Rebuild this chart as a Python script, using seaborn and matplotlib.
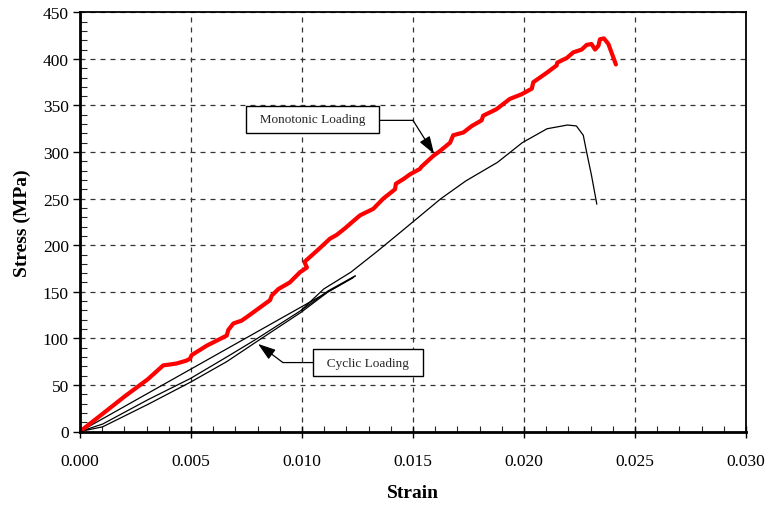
import numpy as np
import pandas as pd
import matplotlib
matplotlib.use("Agg")
import matplotlib.pyplot as plt
from matplotlib.ticker import MultipleLocator, FormatStrFormatter
import seaborn as sns

# ---------------- data ----------------
mono_strain = [0.0, 0.00102, 0.00203, 0.00305, 0.00375, 0.00407, 0.00435, 0.00478, 0.00495, 0.00503,
               0.00570, 0.00661, 0.00668, 0.00691, 0.00728, 0.00752, 0.00781, 0.00856, 0.00864,
               0.00894, 0.00945, 0.00991, 0.01022, 0.01011, 0.01081, 0.01126, 0.01156, 0.01193,
               0.01261, 0.01321, 0.01366, 0.01419, 0.01423, 0.01457, 0.01486, 0.01532, 0.01537,
               0.01592, 0.01621, 0.01667, 0.01681, 0.01727, 0.01765, 0.01809, 0.01816, 0.01876,
               0.01936, 0.01989, 0.02035, 0.02042, 0.02102, 0.02147, 0.02150, 0.02193, 0.02222,
               0.02260, 0.02282, 0.02304, 0.02320, 0.02335, 0.02342, 0.02360, 0.02380, 0.02414]
mono_stress = [0, 19, 38, 56, 71, 72, 73, 76, 78, 82,
               92, 103, 109, 116, 119, 123, 128, 141, 146,
               153, 160, 171, 176, 182, 197, 207, 211, 218,
               232, 239, 250, 260, 266, 271, 276, 282, 284,
               296, 301, 310, 318, 321, 328, 334, 339, 346,
               357, 362, 368, 375, 385, 393, 396, 401, 407,
               410, 415, 416, 410, 414, 421, 422, 416, 394]

cyc_load1_strain = [0.0, 0.00102, 0.00305, 0.00498, 0.00661, 0.00793, 0.00996, 0.01118, 0.01240]
cyc_load1_stress = [0, 5, 29, 53, 75, 96, 128, 150, 167]
cyc_load2_strain = [0.0, 0.00102, 0.00305, 0.00498, 0.00661, 0.00793, 0.00996, 0.01118, 0.01240]
cyc_load2_stress = [0, 8, 34, 57, 80, 99, 130, 151, 167]
cyc_unload_strain = [0.0, 0.01230]
cyc_unload_stress = [0, 165]
cyc_env_strain = [0.00996, 0.01098, 0.01220, 0.01342, 0.01454, 0.01535, 0.01626, 0.01738, 0.01881,
                  0.01992, 0.02104, 0.02196, 0.02236, 0.02267, 0.02282, 0.02304, 0.02328]
cyc_env_stress = [130, 153, 171, 194, 216, 232, 250, 269, 289,
                  310, 325, 329, 328, 318, 300, 275, 244]

x_ticks = [0.000, 0.005, 0.010, 0.015, 0.020, 0.025, 0.030]
y_ticks = [0, 50, 100, 150, 200, 250, 300, 350, 400, 450]

# ---------------- style ----------------
sns.set_theme(style="white")
plt.rcParams["font.family"] = ["Liberation Serif", "DejaVu Serif"]

fig = plt.figure(figsize=(7.69, 5.06), dpi=100)
ax = fig.add_axes([80 / 769, 1 - 432.5 / 506, 666 / 769, 419.2 / 506])

def seg(x, y, **kw):
    df = pd.DataFrame({"Strain": x, "Stress": y})
    sns.lineplot(data=df, x="Strain", y="Stress", sort=False, estimator=None, ax=ax, **kw)

seg(cyc_load1_strain, cyc_load1_stress, color="black", linewidth=0.9)
seg(cyc_load2_strain, cyc_load2_stress, color="black", linewidth=0.9)
seg(cyc_unload_strain, cyc_unload_stress, color="black", linewidth=0.9)
seg(cyc_env_strain, cyc_env_stress, color="black", linewidth=0.9)
seg(mono_strain, mono_stress, color="#ff0000", linewidth=3.0)

ax.set_xlim(0, 0.030)
ax.set_ylim(0, 450)
ax.set_xticks(x_ticks)
ax.set_yticks(y_ticks)
ax.xaxis.set_major_formatter(FormatStrFormatter("%.3f"))
ax.xaxis.set_minor_locator(MultipleLocator(0.001))
ax.yaxis.set_minor_locator(MultipleLocator(10))

ax.grid(True, which="major", color="#333333", linestyle=(0, (4, 4)), linewidth=0.9)
ax.set_axisbelow(True)

for s in ["left", "bottom"]:
    ax.spines[s].set_linewidth(2.0)
    ax.spines[s].set_color("black")
for s in ["top", "right"]:
    ax.spines[s].set_linewidth(1.3)
    ax.spines[s].set_color("black")

ax.tick_params(axis="x", which="major", direction="inout", length=9, width=1.0,
               labelsize=12.5, colors="black", pad=11, bottom=True)
ax.tick_params(axis="x", which="minor", direction="in", length=4, width=0.8, bottom=True)
ax.tick_params(axis="y", which="major", direction="out", length=5, width=1.0,
               labelsize=12.5, colors="black", pad=3, left=True)
ax.tick_params(axis="y", which="minor", direction="in", length=5, width=0.8, left=True)

ax.set_xlabel("Strain", fontsize=14, fontweight="bold", color="black", labelpad=11)
ax.set_ylabel("Stress (MPa)", fontsize=14, fontweight="bold", color="black")
ax.yaxis.set_label_coords(-0.074, 0.5)

# ---------------- annotations ----------------
box = dict(boxstyle="square,pad=0.55", facecolor="white", edgecolor="black", linewidth=1.0)
ax.text(0.01047, 335, "  Monotonic Loading  ", fontsize=9.5, ha="center", va="center",
        bbox=box, zorder=5)
ax.annotate("", xy=(0.01500, 334), xytext=(0.01342, 334),
            arrowprops=dict(arrowstyle="-", color="black", lw=0.9, shrinkA=0, shrinkB=0), zorder=4)
ax.annotate("", xy=(0.01595, 298), xytext=(0.01500, 334),
            arrowprops=dict(arrowstyle="-|>,head_length=0.9,head_width=0.3",
                            color="black", lw=0.9, shrinkA=0, shrinkB=0), zorder=5)

ax.text(0.01297, 74, "  Cyclic Loading  ", fontsize=9.5, ha="center", va="center",
        bbox=box, zorder=5)
ax.annotate("", xy=(0.00914, 74), xytext=(0.01050, 74),
            arrowprops=dict(arrowstyle="-", color="black", lw=0.9, shrinkA=0, shrinkB=0), zorder=4)
ax.annotate("", xy=(0.00802, 94), xytext=(0.00914, 74),
            arrowprops=dict(arrowstyle="-|>,head_length=0.9,head_width=0.3",
                            color="black", lw=0.9, shrinkA=0, shrinkB=0), zorder=5)

fig.savefig("out.png", dpi=100)
